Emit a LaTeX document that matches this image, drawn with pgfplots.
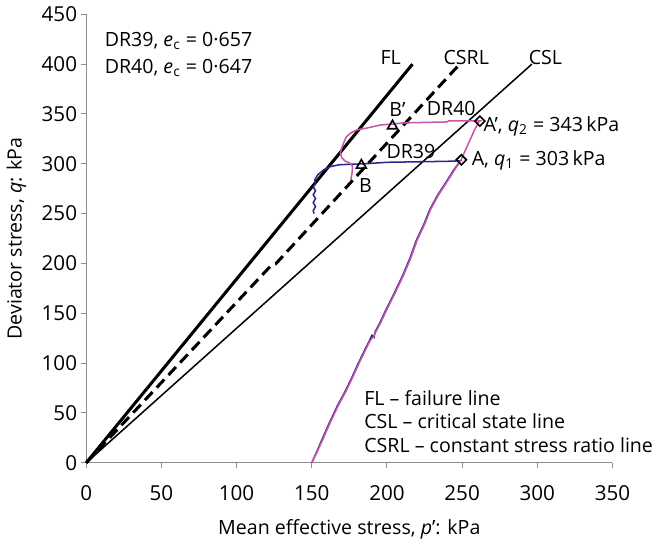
\documentclass[border=0pt]{standalone}
\usepackage{fontspec}
\setmainfont{Open Sans}
\usepackage{pgfplots}
\pgfplotsset{compat=1.18}
\definecolor{dblue}{RGB}{40,40,140}
\definecolor{dpink}{RGB}{200,85,170}
\definecolor{axgray}{RGB}{140,140,140}
\begin{document}
\begin{tikzpicture}[font=\fontsize{9.7}{12}\selectfont]
\begin{axis}[
  scale only axis, width=260.5pt, height=222pt,
  xmin=0, xmax=350, ymin=0, ymax=450,
  xtick={0,50,...,350}, ytick={0,50,...,450},
  axis lines=left, axis line style={-, draw=axgray, line width=0.6pt},
  tick align=outside, major tick length=2.5pt,
  tick style={axgray, line width=0.5pt},
  /pgf/number format/assume math mode=true,
  ticklabel style={font=\fontsize{10.2}{12}\selectfont},
  xticklabel style={yshift=-5.3pt},
  yticklabel style={xshift=1.5pt},
  xlabel={Mean effective stress, \textit{p}’: kPa},
  ylabel={Deviator stress, \textit{q}: kPa},
  xlabel style={at={(axis description cs:0.5,-0.149)}, anchor=center},
  ylabel style={at={(axis description cs:-0.1324,0.5)}, anchor=center},
  clip=false,
]
% FL
\addplot[black, line width=1.5pt] coordinates {(0,0) (217,400)};
% CSRL
\addplot[black, line width=1.5pt, dash pattern=on 5.5pt off 3pt] coordinates {(0,0) (123,198) (126,199.5) (248.4,400)};
% CSL
\addplot[black, line width=0.75pt] coordinates {(0,0) (296.4,400)};
% DR39
\addplot[dblue, line width=0.75pt] coordinates {
(150,0) (153,10) (157,24) (162,41) (167,57) (172,71) (176.5,85) (181,100) (185.5,114) (188.5,123) (190,128) (191.5,126) (192,131)
(195.5,141) (199.5,154) (204.5,169) (210.5,188) (215.5,206) (219.5,223) (224.5,239) (228.5,254) (233.5,268) (239.5,282) (244.5,294) (249,303)
(240,302.5) (220,302) (200,301.5) (185,300) (175,299.5) (168,299) (162,297) (158,294) (154,289) (152,284)
(152.5,280) (151,277) (152.5,273) (151,269) (152.5,265) (151,261) (152.5,257) (151,253) (151.5,250)};
% DR40
\addplot[dpink, line width=0.75pt] coordinates {
(150,0) (153.3,10) (157.5,24) (162.5,41) (167.5,57) (172.5,71) (177,85) (181.5,100) (186,114) (189,123) (191,126) (192.5,131)
(196,141) (200,154) (205,169) (211,188) (216,206) (220,223) (225,239) (229,254) (234,268) (240,282) (245,294) (249,303)
(252,313) (255,323) (258,333) (261,342) (262,343) (255,343) (245,343) (241,343) (240,342) (225,341.5) (210,341) (205,340)
(196,339) (187,336) (180,334) (176,331) (173,327) (171.5,322) (170,316) (169,311) (170,306) (172,303) (175.5,300.5) (177,298)
(177,293) (176.5,288) (176,284)};
% markers
\addplot[only marks, mark=square, mark size=1.77pt, mark options={rotate=45, black, line width=0.8pt, fill=white}] coordinates {(249.5,304) (261.8,342.8)};
\addplot[only marks, mark=triangle, mark size=2.8pt, mark options={black, line width=0.8pt, fill=none}] coordinates {(183,298.5) (203.7,338)};
% labels
\node at (axis cs:202.5,407) {FL};
\node at (axis cs:252.8,407) {CSRL};
\node at (axis cs:305.4,407) {CSL};
\node at (axis cs:207,354.6) {B’};
\node at (axis cs:242.8,355.4) {DR40};
\node at (axis cs:216,312.4) {DR39};
\node at (axis cs:185.8,278) {B};
\node[anchor=base west, inner sep=0pt] at (axis cs:264,332.6) {A’, \textit{q}\textsubscript{2} = 343\,kPa};
\node[anchor=base west, inner sep=0pt] at (axis cs:256.2,298.2) {A, \textit{q}\textsubscript{1} = 303\,kPa};
\node[anchor=base west, inner sep=0pt] at (axis cs:12.1,418) {DR39, \textit{e}\textsubscript{c} = 0·657};
\node[anchor=base west, inner sep=0pt] at (axis cs:12.1,391) {DR40, \textit{e}\textsubscript{c} = 0·647};
\node[anchor=base west, inner sep=0pt] at (axis cs:184.7,57.4) {FL – failure line};
\node[anchor=base west, inner sep=0pt] at (axis cs:184.7,34.4) {CSL – critical state line};
\node[anchor=base west, inner sep=0pt] at (axis cs:184.7,10.8) {CSRL – constant stress ratio line};
\end{axis}
\end{tikzpicture}
\end{document}
